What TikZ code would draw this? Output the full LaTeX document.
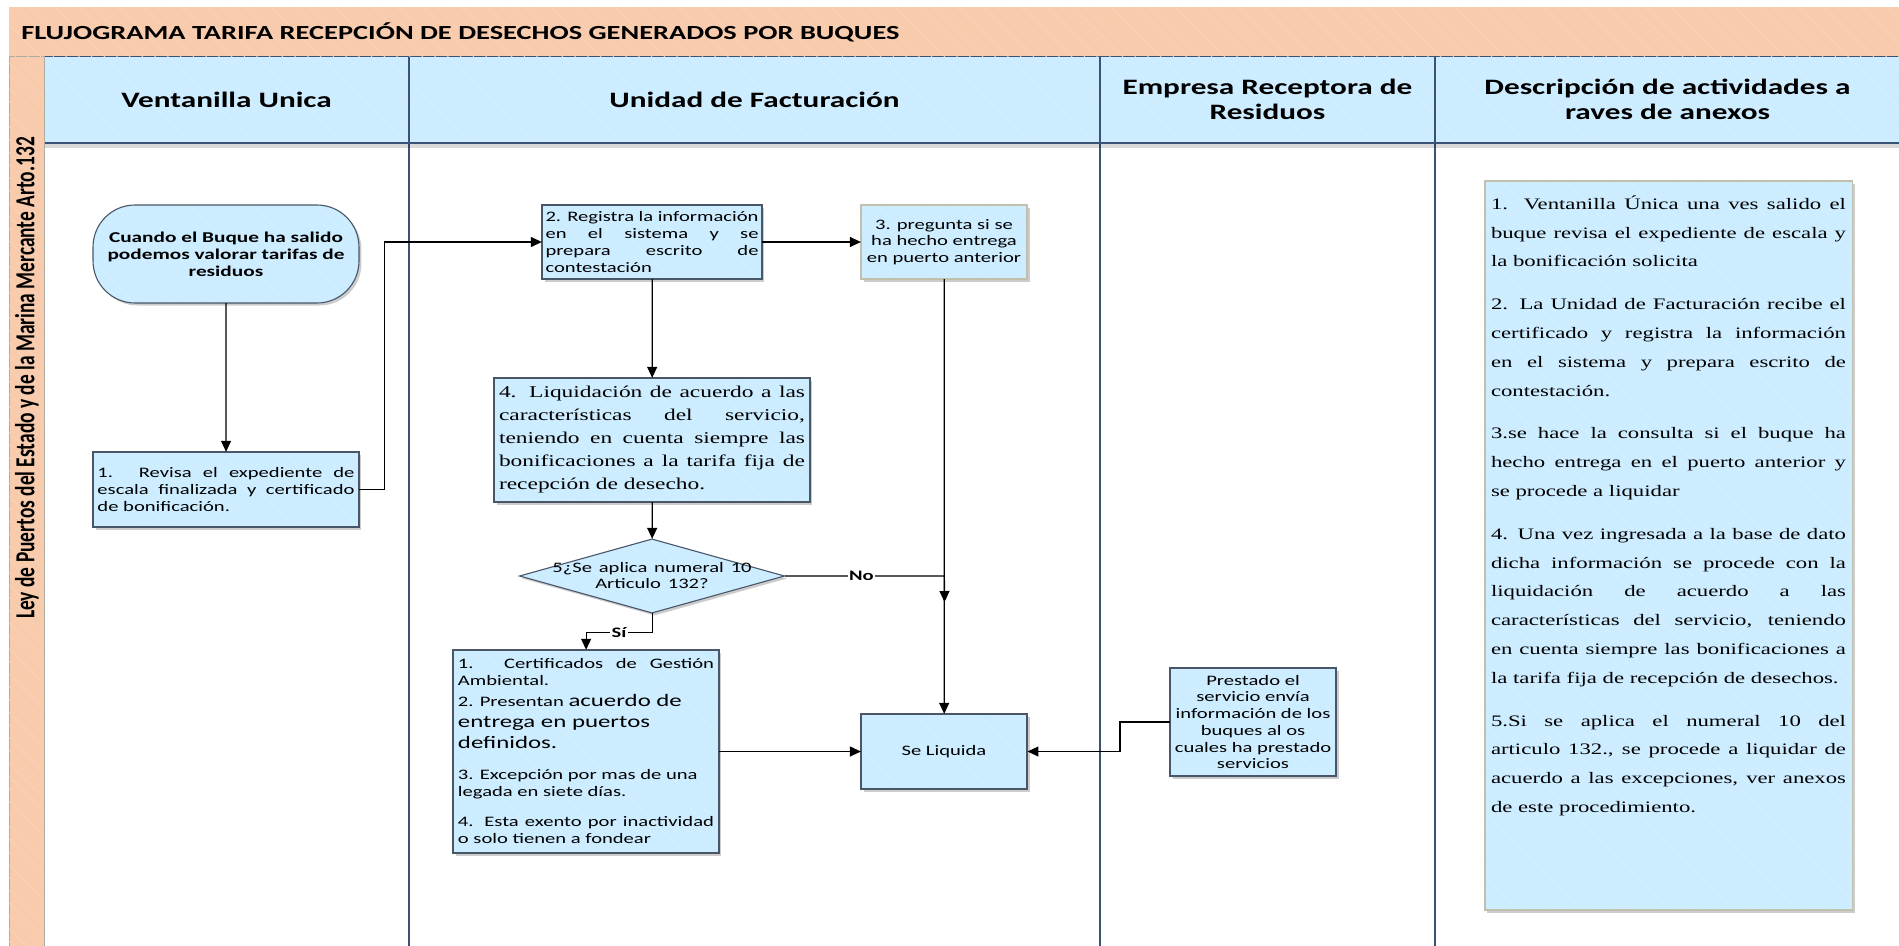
\documentclass[tikz,border=0pt]{standalone}
\usepackage{fontspec}
\setmainfont{Carlito}
\newfontfamily\garamondish{Liberation Serif}
\usepackage{tikz}
\usetikzlibrary{arrows.meta,positioning,calc,shapes.geometric,shadows,patterns.meta}
\definecolor{titleOrange}{RGB}{248,203,173}
\definecolor{hatchOrange}{RGB}{250,211,186}
\definecolor{laneBlue}{RGB}{204,236,255}
\definecolor{hatchBlue}{RGB}{215,240,255}
\definecolor{laneLine}{RGB}{58,82,118}
\definecolor{boxLine}{RGB}{72,86,104}
\definecolor{paleEdge}{RGB}{192,192,172}
\definecolor{stripEdge}{RGB}{172,172,160}

\begin{document}
\begin{tikzpicture}[x=0.704225pt, y=-1pt, xscale=1.42, transform shape,
    hatch/.style={postaction={pattern={Lines[angle=-45,distance=9pt,line width=0.7pt]}, pattern color=#1}},
    boxedge/.style={postaction={draw=#1, line width=1.1pt}},
    basebox/.style={fill=laneBlue, hatch=hatchBlue, inner sep=0pt,
      drop shadow={shadow xshift=2.5pt, shadow yshift=-2.5pt, opacity=0.2, fill=black},
      font=\fontsize{14.5}{16.7}\selectfont},
    procbox/.style={basebox, boxedge=boxLine},
    palebox/.style={basebox, boxedge=paleEdge},
    lanehead/.style={font=\bfseries\fontsize{22}{25}\selectfont, align=center, inner sep=0pt},
    flowline/.style={black, line width=1.2pt, -{Triangle[length=11pt,width=10pt]}},
    edgelab/.style={fill=white, inner sep=1pt, font=\bfseries\fontsize{14.5}{16}\selectfont}]
  \useasboundingbox (0,0) rectangle (1899,945);

  % Lanes and their headers
  \foreach \xl/\xr/\lab [count=\i] in {44/409/{Ventanilla Unica},
      409/1100/{Unidad de Facturación},
      1100/1435/{Empresa Receptora de\\Residuos},
      1435/1900/{Descripción de actividades a\\raves de anexos}} {
    \fill[laneBlue, hatch=hatchBlue] (\xl,56) rectangle (\xr,143);
    \draw[laneLine, line width=1.3pt] (\xl,56) rectangle (\xr,960);
    \draw[laneLine, line width=1.3pt] (\xl,143) -- (\xr,143);
    \node[lanehead] (head\i) at ({(\xl+\xr)/2},99.5) {\lab};
  }
  \fill[black, opacity=0.15] (44,144) rectangle (1899,147.5);

  % Title band and side strip
  \fill[titleOrange, hatch=hatchOrange] (9,7) rectangle (1899,56);
  \node[anchor=west, inner sep=0pt, font=\bfseries\fontsize{20}{24}\selectfont] (titulo) at (21,32)
    {FLUJOGRAMA TARIFA RECEPCIÓN DE DESECHOS GENERADOS POR BUQUES};
  \filldraw[fill=titleOrange, draw=stripEdge, line width=1pt, hatch=hatchOrange] (9,56) rectangle (44,960);
  \node[rotate=90, inner sep=0pt, font=\bfseries\fontsize{19.4}{23}\selectfont] (ley) at (27,378)
    {Ley de Puertos del Estado y de la Marina Mercante Arto.132};

  % Ventanilla Unica
  \node[procbox, rounded corners=42pt, minimum width=187.3pt, minimum height=98pt, align=center,
        font=\bfseries\fontsize{15}{17}\selectfont] (start) at (226,254)
    {Cuando el Buque ha salido\\podemos valorar tarifas de\\residuos};
  \node[procbox, minimum width=187.3pt, minimum height=75pt, text width=181pt, align=justify] (revisa) at (226,489.5)
    {1. Revisa el expediente de\linebreak escala finalizada y certificado\linebreak de bonificación.};

  % Unidad de Facturacion
  \node[procbox, minimum width=154.9pt, minimum height=74pt, text width=150pt, align=justify] (registra) at (652,242)
    {2. Registra la información\linebreak en el sistema y se\linebreak prepara escrito de\linebreak contestación};
  \node[palebox, minimum width=116.9pt, minimum height=74pt, align=center] (pregunta) at (944,242)
    {3. pregunta si se\\ha hecho entrega\\en puerto anterior};
  \node[procbox, minimum width=222.5pt, minimum height=124pt, text width=215.5pt, align=justify,
        font=\garamondish\fontsize{16.5}{23}\selectfont] (liquidacion) at (652,440)
    {4. Liquidación de acuerdo a las\linebreak características del servicio,\linebreak teniendo en cuenta siempre las\linebreak bonificaciones a la tarifa fija de\linebreak recepción de desecho.};
  \node[procbox, diamond, shape aspect=2.5, minimum width=186.6pt, minimum height=74pt,
        text width=150pt, text height=0pt, text depth=8pt, align=center,
        font=\fontsize{14.5}{16}\selectfont] (aplica) at (652,576)
    {5¿Se aplica numeral 10\\Articulo 132?};
  \node[procbox, minimum width=187.3pt, minimum height=203pt, text width=180.3pt, align=justify,
        font=\fontsize{14.5}{17}\selectfont] (requisitos) at (586,751.5)
    {1. Certificados de Gestión\linebreak Ambiental.\par
     {\fontsize{14.5}{21}\selectfont 2. Presentan {\fontsize{17.5}{21}\selectfont acuerdo de\\entrega en puertos\\definidos.}\par}
     \vspace{14pt}3. Excepción por mas de una\\legada en siete días.\par
     \vspace{13pt}4. Esta exento por inactividad\linebreak o solo tienen a fondear};
  \node[procbox, minimum width=116.9pt, minimum height=75pt] (seliquida) at (944,751.5) {Se Liquida};

  % Empresa Receptora de Residuos
  \node[procbox, minimum width=116.9pt, minimum height=108pt, align=center] (prestado) at (1253,722)
    {Prestado el\\servicio envía\\información de los\\buques al os\\cuales ha prestado\\servicios};

  % Descripcion de actividades
  \node[palebox, minimum width=258.5pt, minimum height=729pt] (anexos) at (1668.5,545.5)
    {\begin{minipage}[c][700pt][t]{250pt}
     \garamondish\fontsize{16}{28.8}\selectfont\setlength{\parskip}{14pt}%
     1. Ventanilla Única una ves salido el\linebreak buque revisa el expediente de escala y\linebreak la bonificación solicita\par
     2. La Unidad de Facturación recibe el\linebreak certificado y registra la información\linebreak en el sistema y prepara escrito de\linebreak contestación.\par
     3.se hace la consulta si el buque ha\linebreak hecho entrega en el puerto anterior y\linebreak se procede a liquidar\par
     4. Una vez ingresada a la base de dato\linebreak dicha información se procede con la\linebreak liquidación de acuerdo a las\linebreak características del servicio, teniendo\linebreak en cuenta siempre las bonificaciones a\linebreak la tarifa fija de recepción de desechos.\par
     5.Si se aplica el numeral 10 del\linebreak articulo 132., se procede a liquidar de\linebreak acuerdo a las excepciones, ver anexos\linebreak de este procedimiento.
     \end{minipage}};

  % Connectors
  \draw[flowline] (start) -- (revisa);
  \draw[flowline] (revisa.east) -- ++(25,0) |- (registra.west);
  \draw[flowline] (registra) -- (pregunta);
  \draw[flowline] (registra) -- (liquidacion);
  \draw[flowline] (liquidacion) -- (aplica);
  \coordinate (noJoin) at (pregunta.south |- aplica.east);
  \path (noJoin) ++(0,26) coordinate (noTip);
  \draw[flowline] (aplica.east) -- node[edgelab, pos=0.48] {No} (noJoin) -- (noTip);
  \draw[flowline] (pregunta) -- (seliquida);
  \draw[flowline] (aplica.south) -- ++(0,19) -| node[edgelab, pos=0.25] {Sí} (requisitos.north);
  \draw[flowline] (requisitos) -- (seliquida);
  \draw[flowline] (prestado.west) -- ++(-50,0) |- (seliquida.east);
\end{tikzpicture}
\end{document}
